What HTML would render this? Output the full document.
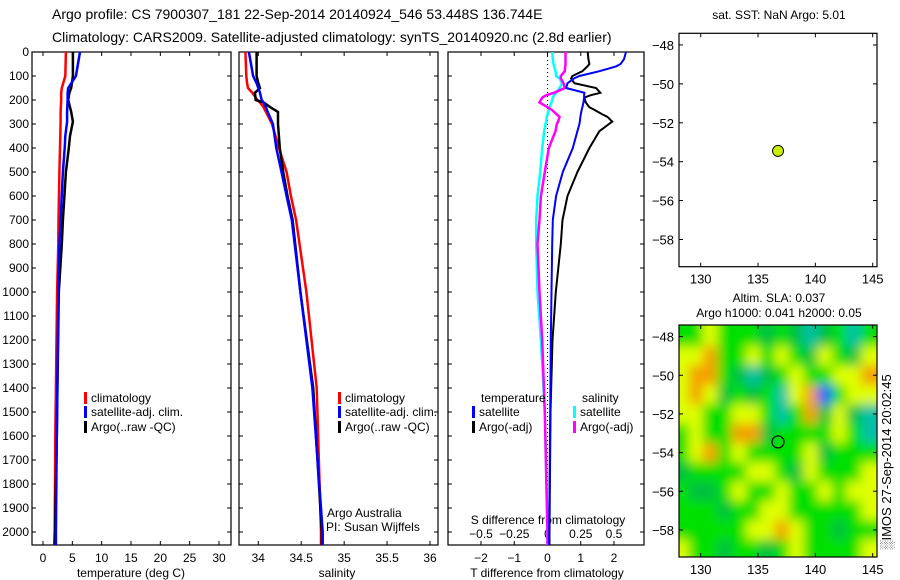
<!DOCTYPE html>
<html><head><meta charset="utf-8"><style>
html,body{margin:0;padding:0;background:#fff;}
svg{display:block;font-family:"Liberation Sans",sans-serif;}
</style></head><body>
<svg id="c" width="900" height="580" viewBox="0 0 900 580" xmlns="http://www.w3.org/2000/svg">
<defs>
<filter id="blur" x="-10%" y="-10%" width="120%" height="120%"><feGaussianBlur stdDeviation="5.5"/></filter>
<clipPath id="mapclip"><rect x="679" y="325" width="198" height="232"/></clipPath>
</defs>
<text x="52" y="19" font-size="14">Argo profile: CS 7900307_181 22-Sep-2014 20140924_546 53.448S 136.744E</text>
<text x="52" y="42" font-size="14">Climatology: CARS2009. Satellite-adjusted climatology: synTS_20140920.nc (2.8d earlier)</text>
<g id="g"></g>
</svg>
<script>
// ---- data ----
const tDepth = [0,100,150,170,200,250,290,350,400,500,700,800,1000,1500,1600,2000,2054];
const tClim  = [3.9,3.8,3.2,3.1,3.1,3.0,3.0,2.95,2.9,2.8,2.65,2.6,2.4,2.15,2.1,2.0,1.9];
const tSat   = [6.3,5.6,4.3,4.2,4.2,4.1,4.1,3.8,3.7,3.4,3.0,2.8,2.6,2.4,2.35,2.2,2.2];
const tArgo  = [5.1,5.1,4.8,4.5,4.3,4.8,5.1,4.6,4.4,3.9,3.4,3.2,2.7,2.4,2.35,2.05,2.05];
const sDepth = [0,100,130,150,170,200,210,230,250,300,400,500,600,700,1000,1400,2000,2054];
const sClim  = [33.85,33.86,33.87,33.88,33.93,33.99,34.02,34.06,34.09,34.16,34.24,34.33,34.38,34.44,34.56,34.68,34.73,34.73];
const sSat   = [33.89,33.94,33.98,34.0,34.02,34.04,34.06,34.09,34.11,34.17,34.21,34.27,34.33,34.39,34.49,34.63,34.75,34.75];
const sArgo  = [33.98,33.98,34.0,34.02,33.96,33.97,34.06,34.14,34.23,34.23,34.25,34.29,34.34,34.40,34.49,34.64,34.74,34.74];
const dDepth = [0,30,50,60,80,100,110,130,150,170,180,190,210,230,240,260,270,290,300,330,400,500,600,700,800,1000,1200,1500,2000,2054];
const dTsat  = [2.36,2.3,2.2,2.06,1.56,0.96,0.8,0.6,0.56,1.11,1.1,1.1,1.08,1.05,1.03,1.0,0.99,0.97,0.96,0.9,0.76,0.46,0.26,0.16,0.14,0.12,0.1,0.08,0.05,0.05];
const dTargo = [1.21,1.23,1.26,1.2,1.05,0.75,0.71,0.81,1.46,1.59,1.3,1.11,1.15,1.26,1.4,1.65,1.8,1.95,1.85,1.56,1.26,0.9,0.6,0.45,0.4,0.25,0.15,0.09,0.06,0.06];
const dSsat  = [0.035,0.04,0.045,0.05,0.06,0.065,0.09,0.11,0.09,0.065,0.05,0.04,0.03,0.015,0.01,0.0,-0.005,-0.01,-0.015,-0.025,-0.04,-0.055,-0.075,-0.085,-0.085,-0.075,-0.05,-0.02,0.0,0.0];
const dSargo = [0.135,0.135,0.135,0.133,0.13,0.1,0.1,0.12,0.13,0.05,-0.01,-0.04,-0.06,0.0,0.03,0.07,0.09,0.08,0.07,0.06,0.01,-0.02,-0.05,-0.06,-0.075,-0.06,-0.04,-0.02,0.0,0.0];
const depthTicks = [0,100,200,300,400,500,600,700,800,900,1000,1100,1200,1300,1400,1500,1600,1700,1800,1900,2000];
const tTicks = [0,5,10,15,20,25,30];
const sTicks = [34,34.5,35,35.5,36];
const dTicks = [-2,-1,0,1,2];
const dsTicks = [-0.5,-0.25,0,0.25,0.5];
const lonTicks = [130,135,140,145];
const latTicks = [-48,-50,-52,-54,-56,-58];
const floatLon = 136.744, floatLat = -53.448;
const slaLon = [128.3,129.6,130.8,132.1,133.3,134.6,135.8,137.1,138.3,139.6,140.8,142.1,143.3,144.6];
const slaLat = [-48,-49,-50,-51,-52,-53,-54,-55,-56,-57,-58,-59];
const slaGrid = [
[1,1,2,1,1,1,0,1,0,-1,0,1,-1,1],
[2,2,3,1,1,2,1,2,1,0,2,1,0,2],
[2,3,3,1,0,-1,0,1,2,1,1,2,2,3],
[2,3,2,0,1,0,1,-1,2,3,-2,1,2,2],
[2,2,1,1,2,2,1,-1,1,3,0,2,0,-1],
[1,2,1,1,3,3,0,1,1,1,1,2,1,-1],
[1,2,3,1,2,1,1,1,1,2,0,1,1,1],
[0,1,1,1,1,2,2,1,0,2,1,1,1,2],
[1,0,0,1,2,1,1,2,1,1,2,1,2,2],
[1,1,1,0,1,1,2,2,1,1,1,1,1,2],
[1,1,1,1,1,2,2,3,2,1,1,0,1,1],
[2,1,1,0,1,1,0,1,2,1,1,1,1,2]];

// ---- helpers ----
const NS="http://www.w3.org/2000/svg";
const G=document.getElementById('g');
function mk(tag,attrs,parent){const e=document.createElementNS(NS,tag);for(const k in attrs)e.setAttribute(k,attrs[k]);(parent||G).appendChild(e);return e;}
function txt(x,y,s,size,anchor,parent){const e=mk('text',{x:x,y:y,'font-size':size,'text-anchor':anchor||'start'},parent);e.textContent=s;return e;}
const lin=(d0,d1,r0,r1)=>v=>r0+(v-d0)*(r1-r0)/(d1-d0);
const yD=lin(0,2000,52,532);
const TOP=52, BOT=545;

function panel(x0,x1,name){
  const f=mk('rect',{x:x0,y:TOP,width:x1-x0,height:BOT-TOP,fill:'none',stroke:'#000','stroke-width':1.2});
  
  
}
function stepLine(xs,ds,sx,color,w,name){
  let d='';
  for(let i=0;i<xs.length;i++){
    const x=sx(xs[i]).toFixed(1), y=yD(ds[i]).toFixed(1);
    d+=(i?'L':'M')+x+' '+y;
  }
  const p=mk('path',{d:d,fill:'none',stroke:color,'stroke-width':w,'stroke-linejoin':'miter'});
  
  
}
function legendItem(x,y,color,label,name){
  const r=mk('rect',{x:x,y:y-10,width:3,height:12,fill:color});
  
  
  const t=txt(x+7,y,label,12);
  
  
}

// ---- panel 1: temperature ----
const xT=lin(0,30,43,219);
panel(32,231,'temperature-panel');
depthTicks.forEach(d=>{
  const y=yD(d);
  mk('line',{x1:32,y1:y,x2:36,y2:y,stroke:'#000'});
  mk('line',{x1:227,y1:y,x2:231,y2:y,stroke:'#000'});
  const t=txt(29,y+4,String(d),12,'end');
  
  
});
tTicks.forEach(v=>{const x=xT(v);
  mk('line',{x1:x,y1:BOT,x2:x,y2:BOT-4,stroke:'#000'});mk('line',{x1:x,y1:TOP,x2:x,y2:TOP+4,stroke:'#000'});
  const t=txt(x,562,String(v),12,'middle');
  
  });
{const t=txt(131,577,'temperature (deg C)',12,'middle');

}
stepLine(tClim,tDepth,xT,'#ff0000',2.5,'temperature-climatology-line');
stepLine(tArgo,tDepth,xT,'#000000',2.5,'temperature-argo-line');
stepLine(tSat,tDepth,xT,'#0000ff',2.5,'temperature-satellite-line');
legendItem(84,402,'#ff0000','climatology','temperature-legend-climatology');
legendItem(84,416,'#0000ff','satellite-adj. clim.','temperature-legend-satellite');
legendItem(84,431,'#000000','Argo(..raw -QC)','temperature-legend-argo');

// ---- panel 2: salinity ----
const xS=lin(34,36,258.3,430);
panel(239,438,'salinity-panel');
depthTicks.forEach(d=>{const y=yD(d);
  mk('line',{x1:239,y1:y,x2:243,y2:y,stroke:'#000'});mk('line',{x1:434,y1:y,x2:438,y2:y,stroke:'#000'});});
sTicks.forEach(v=>{const x=xS(v);
  mk('line',{x1:x,y1:BOT,x2:x,y2:BOT-4,stroke:'#000'});mk('line',{x1:x,y1:TOP,x2:x,y2:TOP+4,stroke:'#000'});
  const t=txt(x,562,String(v),12,'middle');
  
  });
{const t=txt(337,577,'salinity',12,'middle');

}
stepLine(sClim,sDepth,xS,'#ff0000',2.5,'salinity-climatology-line');
stepLine(sArgo,sDepth,xS,'#000000',2.5,'salinity-argo-line');
stepLine(sSat,sDepth,xS,'#0000ff',2.5,'salinity-satellite-line');
legendItem(338,402,'#ff0000','climatology','salinity-legend-climatology');
legendItem(338,416,'#0000ff','satellite-adj. clim.','salinity-legend-satellite');
legendItem(338,431,'#000000','Argo(..raw -QC)','salinity-legend-argo');
{const t=txt(327,517,'Argo Australia',12);
const t2=txt(326,531,'PI: Susan Wijffels',12);}

// ---- panel 3: differences ----
const xD=lin(-2,2,481,614);
const xDS=v=>xD(v*4);
panel(448,644,'difference-panel');
depthTicks.forEach(d=>{const y=yD(d);
  mk('line',{x1:448,y1:y,x2:452,y2:y,stroke:'#000'});mk('line',{x1:640,y1:y,x2:644,y2:y,stroke:'#000'});});
mk('line',{x1:xD(0),y1:TOP,x2:xD(0),y2:BOT,stroke:'#000','stroke-dasharray':'1,3'});
dTicks.forEach(v=>{const x=xD(v);
  mk('line',{x1:x,y1:BOT,x2:x,y2:BOT-4,stroke:'#000'});mk('line',{x1:x,y1:TOP,x2:x,y2:TOP+4,stroke:'#000'});
  const t=txt(x,562,String(v).replace('-','\u2212'),12,'middle');
  
  });
dsTicks.forEach(v=>{const x=xDS(v);
  const t=txt(x,538,String(v).replace('-','\u2212'),12,'middle');
  
  });
{const t=txt(547,577,'T difference from climatology',12,'middle');
const t2=txt(548,524,'S difference from climatology',12,'middle');}
stepLine(dSsat,dDepth,xDS,'#00ffff',2.5,'salinity-satellite-difference-line');
stepLine(dSargo,dDepth,xDS,'#ff00ff',2.5,'salinity-argo-difference-line');
stepLine(dTargo,dDepth,xD,'#000000',2,'temperature-argo-difference-line');
stepLine(dTsat,dDepth,xD,'#0000ff',2,'temperature-satellite-difference-line');
{const t=txt(481,402,'temperature',12);
const t2=txt(582,402,'salinity',12);}
legendItem(472,416,'#0000ff','satellite','difference-legend-t-satellite');
legendItem(472,431,'#000000','Argo(-adj)','difference-legend-t-argo');
legendItem(573,416,'#00ffff','satellite','difference-legend-s-satellite');
legendItem(573,431,'#ff00ff','Argo(-adj)','difference-legend-s-argo');

// ---- maps ----
const xL=lin(130,145,700.7,872.7);
function drawMap(top,bot,name){
  const yL=lin(-47.4,-59.4,top,bot);
  lonTicks.forEach(v=>{const x=xL(v);
    mk('line',{x1:x,y1:bot,x2:x,y2:bot-4,stroke:'#000'});mk('line',{x1:x,y1:top,x2:x,y2:top+4,stroke:'#000'});
    const t=txt(x,bot+17,String(v),13,'middle');
    
    });
  latTicks.forEach(v=>{const y=yL(v);
    mk('line',{x1:679,y1:y,x2:683,y2:y,stroke:'#000'});mk('line',{x1:873,y1:y,x2:877,y2:y,stroke:'#000'});
    const t=txt(674,y+5,String(v).replace('-','\u2212'),13,'end');
    
    });
  const f=mk('rect',{x:679,y:top,width:198,height:bot-top,fill:'none',stroke:'#000','stroke-width':1.2});
  
  
  return yL;
}
// map 1
{const t=txt(779,19,'sat. SST: NaN Argo: 5.01',12,'middle');}
const yL1=lin(-47.4,-59.4,33.3,266.7);
{const c=mk('circle',{cx:xL(floatLon),cy:yL1(floatLat),r:5.5,fill:'#c8f000',stroke:'#000','stroke-width':1});
}
drawMap(33.3,266.7,'sst-map');
// map 2 heatmap
const yL2=lin(-47.4,-59.4,325,557);
function col(v){
  if(v<=-2)return '#1060ff';
  if(v<=-1)return '#00c0a8';
  if(v<=0)return '#00c040';
  if(v<=1)return '#00e000';
  if(v<=2)return '#e0ff00';
  return '#f5a000';
}
const hm=mk('g',{'clip-path':'url(#mapclip)'});


mk('rect',{x:679,y:325,width:198,height:232,fill:'#00e000'},hm);
const hb=mk('g',{filter:'url(#blur)'},hm);
const cw=xL(1.25)-xL(0), ch=yL2(-1)-yL2(0);
slaGrid.forEach((row,ri)=>row.forEach((v,ci)=>{
  const x=xL(slaLon[ci])-cw/2, y=yL2(slaLat[ri])-ch/2;
  const r=mk('rect',{x:(x-(ci==0?20:0)).toFixed(1),y:(y-(ri==0?20:0)).toFixed(1),width:(cw+(ci==0||ci==13?20:0)+0.5).toFixed(1),height:(ch+(ri==0||ri==11?20:0)+0.5).toFixed(1),fill:col(v)},hb);
  
  
}));
{const c=mk('circle',{cx:xL(floatLon),cy:yL2(floatLat),r:6,fill:'none',stroke:'#000','stroke-width':1.2});
}
drawMap(325,557,'sla-map');
{const t=txt(779,302,'Altim. SLA: 0.037',12,'middle');
const t2=txt(779,317,'Argo h1000: 0.041 h2000: 0.05',12,'middle');
const t3=txt(0,0,'\u2591IMOS 27-Sep-2014 20:02:45',13,'middle');t3.setAttribute('transform','translate(891,462) rotate(-90)');
}
</script>
</body></html>
